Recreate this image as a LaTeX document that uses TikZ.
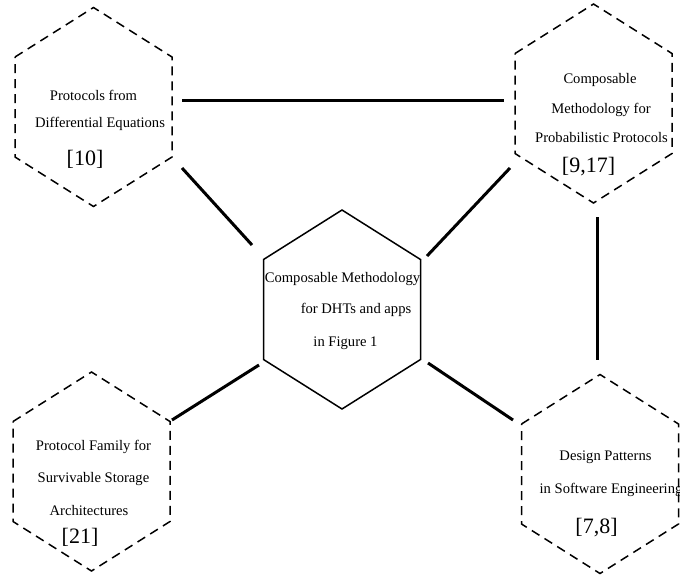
\documentclass[tikz,border=0pt]{standalone}
\usepackage{fontspec}
\setmainfont{Liberation Serif}
\begin{document}
\begin{tikzpicture}[x=1pt,y=-1pt,
  hexa/.pic={\draw[pic actions] (-78.5,-50) -- (0,-99.5) -- (78.5,-50) -- (78.5,50) -- (0,99.5) -- (-78.5,50) -- cycle;},
  dashhex/.style={line width=1.5pt,dash pattern=on 9pt off 6pt,black},
  solidhex/.style={line width=1.5pt,black},
  link/.style={line width=3pt,black},
  lbl/.style={anchor=base,inner sep=0pt,font=\fontsize{14.6}{17}\selectfont},
  ref/.style={anchor=base,inner sep=0pt,font=\fontsize{22}{26}\selectfont}]
\useasboundingbox (0,0) rectangle (680,576);
% hexagons
\pic[dashhex] at (93.5,107) {hexa};
\pic[dashhex] at (593.5,103.5) {hexa};
\pic[solidhex] at (342,309.5) {hexa};
\pic[dashhex] at (91.5,471.5) {hexa};
\pic[dashhex] at (600,474) {hexa};
% texts
\node[lbl] (tl1) at (93.5,100) {Protocols from};
\node[lbl] (tl2) at (100,127) {Differential Equations};
\node[ref] (tl3) at (85,165) {[10]};
\node[lbl] (tr1) at (600,83) {Composable};
\node[lbl] (tr2) at (601,113) {Methodology for};
\node[lbl] (tr3) at (601.5,142) {Probabilistic Protocols};
\node[ref] (tr4) at (588.5,172) {[9,17]};
\node[lbl] (c1) at (342.5,282) {Composable Methodology};
\node[lbl] (c2) at (356,313) {for DHTs and apps};
\node[lbl] (c3) at (345.5,346) {in Figure 1};
\node[lbl] (bl1) at (93.5,450) {Protocol Family for};
\node[lbl] (bl2) at (93.5,482) {Survivable Storage};
\node[lbl] (bl3) at (89,515) {Architectures};
\node[ref] (bl4) at (80,543) {[21]};
\node[lbl] (br1) at (605.5,460) {Design Patterns};
\node[lbl] (br2) at (611,493) {in Software Engineering};
\node[ref] (br3) at (596.5,533) {[7,8]};
% connector ends
\coordinate (tlR) at (182,100.5);
\coordinate (trL) at (504,100.5);
\coordinate (tlB) at (182,168);
\coordinate (cTL) at (252,245);
\coordinate (trB) at (510,168);
\coordinate (cTR) at (427,256);
\coordinate (trD) at (597,217);
\coordinate (brU) at (597,360);
\coordinate (cBL) at (259,365);
\coordinate (blU) at (172,420);
\coordinate (cBR) at (428,363);
\coordinate (brL) at (513,420);
\draw[link] (tlR) -- (trL);
\draw[link] (tlB) -- (cTL);
\draw[link] (trB) -- (cTR);
\draw[link] (trD) -- (brU);
\draw[link] (cBL) -- (blU);
\draw[link] (cBR) -- (brL);
\end{tikzpicture}
\end{document}
